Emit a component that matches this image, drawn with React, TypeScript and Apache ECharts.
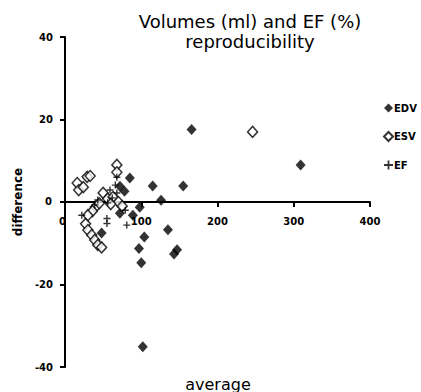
import React, { useEffect, useRef } from "react";
import * as echarts from "echarts";

const titleLines = ["Volumes (ml) and EF (%)", "reproducibility"];
const xAxisName = "average";
const yAxisName = "difference";
const seriesNames = ["EDV", "ESV", "EF"];
const yTicks = [-40, -20, 0, 20, 40];
const xTicks = [0, 100, 200, 300, 400];
const originLabel = "0";

const edvPoints: [number, number][] = [
  [166, 17.6], [309, 9], [115, 3.9], [155, 3.9], [126, 0.4], [85, 5.8], [78, 2.6],
  [72, 3.8], [98, -1.3], [72, -2.7], [89, -3.2], [135, -6.7], [104, -8.5],
  [97, -11.3], [100, -14.7], [147, -11.6], [143, -12.6], [102, -35.1], [48, -7.5],
];
const esvPoints: [number, number][] = [
  [246, 17], [68, 9], [68, 7.2], [29, 6.1], [33, 6.3], [16, 4.6], [18, 2.9], [24, 3.6],
  [50, 2.2], [56, 0.8], [63, 1.2], [70, 0], [75, -1], [40, -1.2], [36, -2.2], [30, -3.2],
  [27, -5.3], [30, -6.8], [35, -8], [39, -9.2], [43, -10.4], [48, -11], [60, -0.5], [45, -0.3],
];
const efPoints: [number, number][] = [
  [22, -3.2], [55, -4], [55, -5.2], [81, -5.6], [68, 6], [66, 4.1], [43, 0.5], [62, 1],
  [68, 2.2], [59, 2.9], [79, -2], [39, -0.7], [56, -0.2],
];

const plusPath = "path://M4,0 L6,0 L6,4 L10,4 L10,6 L6,6 L6,10 L4,10 L4,6 L0,6 L0,4 L4,4 Z";

export default function App() {
  const ref = useRef<HTMLDivElement>(null);
  useEffect(() => {
    if (!ref.current) return;
    const chart = echarts.init(ref.current, null, { renderer: "svg" });
    const tickFont = { fontFamily: "DejaVu Sans", fontWeight: "bold" as const, fontSize: 10, color: "#000" };
    chart.setOption({
      animation: false,
      backgroundColor: "#fff",
      title: [
        {
          text: titleLines.join("\n"),
          left: 245,
          textAlign: "center",
          top: 6,
          textStyle: { fontFamily: "DejaVu Sans", fontWeight: "normal", fontSize: 18, lineHeight: 20, color: "#000" },
        },
        {
          text: xAxisName,
          left: 213,
          textAlign: "center",
          top: 371,
          textStyle: { fontFamily: "DejaVu Sans", fontWeight: "normal", fontSize: 16, color: "#000" },
        },
      ],
      legend: {
        orient: "vertical",
        left: 378,
        top: 98,
        itemGap: 18,
        itemWidth: 9,
        itemHeight: 9,
        data: seriesNames,
        textStyle: { fontFamily: "DejaVu Sans", fontWeight: "bold", fontSize: 10, color: "#000", padding: [0, 0, 0, -4] },
      },
      grid: { left: 65, right: 51, top: 37, bottom: 25, containLabel: false, outerBoundsMode: "none" },
      graphic: [
        {
          id: "y0",
          type: "text",
          left: 45,
          top: 196,
          z: 100,
          style: { text: originLabel, fill: "#000", font: "bold 10px 'DejaVu Sans'" },
        },
        {
          id: "x0",
          type: "text",
          left: 59,
          top: 216,
          z: 100,
          style: { text: originLabel, fill: "#000", font: "bold 10px 'DejaVu Sans'" },
        },
      ],
      xAxis: {
        type: "value",
        min: xTicks[0],
        max: xTicks[xTicks.length - 1],
        interval: 100,
        position: "bottom",
        offset: -165,
        axisLine: { onZero: false, lineStyle: { color: "#000", width: 2 } },
        axisTick: { show: true, length: 5, lineStyle: { color: "#000", width: 2 } },
        axisLabel: { ...tickFont, margin: 14, formatter: (v: number) => (v === 0 ? "" : String(v)) },
        splitLine: { show: false },
      },
      yAxis: {
        type: "value",
        min: yTicks[0],
        max: yTicks[yTicks.length - 1],
        interval: 20,
        name: yAxisName,
        nameLocation: "middle",
        nameGap: 40,
        nameRotate: 90,
        nameTextStyle: { fontFamily: "DejaVu Sans", fontWeight: "bold", fontSize: 12, color: "#000" },
        axisLine: { show: true, onZero: false, lineStyle: { color: "#000", width: 2 } },
        axisTick: { show: true, length: 5, lineStyle: { color: "#000", width: 2 } },
        axisLabel: { ...tickFont, margin: 12, formatter: (v: number) => (v === 0 ? "" : String(v)) },
        splitLine: { show: false },
      },
      series: [
        {
          name: seriesNames[0],
          type: "scatter",
          data: edvPoints,
          symbol: "diamond",
          symbolSize: [10, 11],
          itemStyle: { color: "#000" },
        },
        {
          name: seriesNames[1],
          type: "scatter",
          data: esvPoints,
          symbol: "diamond",
          symbolSize: [10, 11],
          itemStyle: { color: "#fff", borderColor: "#000", borderWidth: 1.5 },
        },
        {
          name: seriesNames[2],
          type: "scatter",
          data: efPoints,
          symbol: plusPath,
          symbolSize: 7,
          itemStyle: { color: "#000" },
        },
      ],
    });
    return () => chart.dispose();
  }, []);
  return <div ref={ref} style={{ width: 421, height: 392, position: "absolute", left: 0, top: 0 }} />;
}
